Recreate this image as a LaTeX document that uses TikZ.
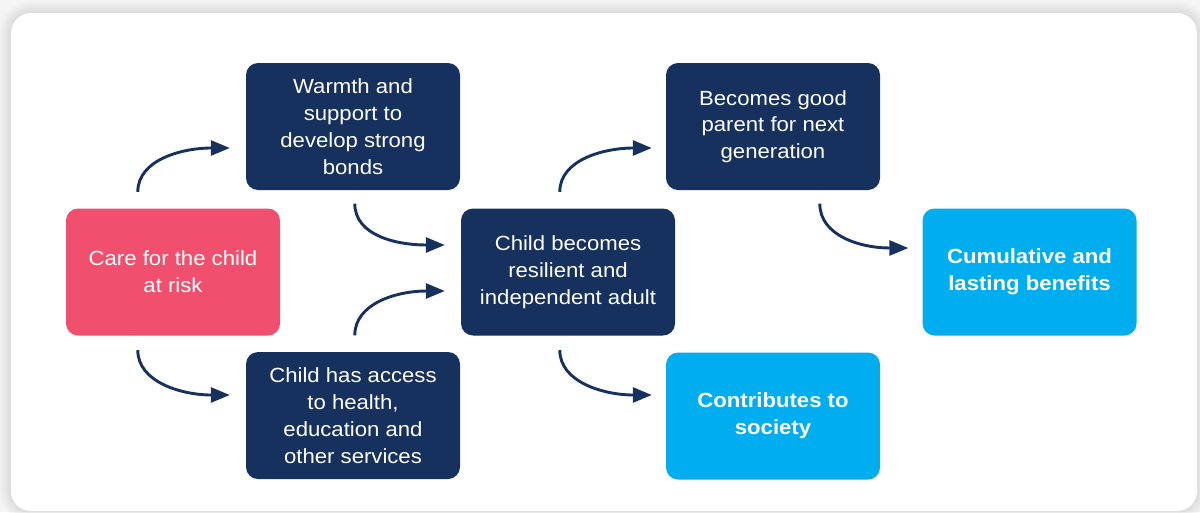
\documentclass[tikz,border=0pt]{standalone}
\usepackage{fontspec}
\setmainfont{Liberation Sans}[FakeStretch=1.08]
\usetikzlibrary{arrows.meta}
\definecolor{navy}{HTML}{17315F}
\definecolor{pinkc}{HTML}{F0506E}
\definecolor{cyanc}{HTML}{00AEEF}
\definecolor{bgc}{HTML}{F5F5F5}
\tikzset{
  box/.style={rectangle, rounded corners=12pt, minimum width=214pt, minimum height=127pt,
    align=center, text=white, inner sep=0pt,
    font=\fontsize{20.5}{26.8}\selectfont},
  darkbox/.style={box, fill=navy},
  redbox/.style={box, fill=pinkc},
  bluebox/.style={box, fill=cyanc, font=\fontsize{20.5}{26.8}\selectfont\bfseries},
  flow/.style={draw=navy, line width=2.9pt, -{Triangle[length=19pt,width=15pt]}},
}
\begin{document}
\begin{tikzpicture}[x=1pt,y=-1pt]
\useasboundingbox (0,0) rectangle (1200,512);
\fill[bgc] (0,0) rectangle (1200,512);
\foreach \i in {1,...,12}{
  \fill[black,opacity=0.006,rounded corners=20pt+\i pt] (11-\i,13-\i) rectangle (1197+\i,511+\i);
}
\fill[white,rounded corners=20pt] (11,13) rectangle (1197,511);

\node[redbox]  (care)   at (173,272) {Care for the child\\at risk};
\node[darkbox] (warmth) at (353,126.5)   {Warmth and\\support to\\develop strong\\bonds};
\node[darkbox] (access) at (353,415.5)   {Child has access\\to health,\\education and\\other services};
\node[darkbox] (child)  at (568,272) {Child becomes\\resilient and\\independent adult};
\node[darkbox] (parent) at (773,126.5)   {Becomes good\\parent for next\\generation};
\node[bluebox] (contrib) at (773,416) {Contributes to\\society};
\node[bluebox] (cumul)  at (1029.5,272) {Cumulative and\\lasting benefits};

\draw[flow] ([shift={(72,-16.5)}]care.north west) .. controls +(0,-32) and +(-48,0) .. ([shift={(-16,21.5)}]warmth.west);
\draw[flow] ([shift={(72,14.5)}]care.south west) .. controls +(0,32) and +(-48,0) .. ([shift={(-16,-20.5)}]access.west);
\draw[flow] ([shift={(109,13.5)}]warmth.south west) .. controls +(0,32) and +(-48,0) .. ([shift={(-16,-27)}]child.west);
\draw[flow] ([shift={(109,-16.5)}]access.north west) .. controls +(0,-32) and +(-48,0) .. ([shift={(-16,19)}]child.west);
\draw[flow] ([shift={(99,-16.5)}]child.north west) .. controls +(0,-32) and +(-48,0) .. ([shift={(-14,21.5)}]parent.west);
\draw[flow] ([shift={(99,14.5)}]child.south west) .. controls +(0,32) and +(-48,0) .. ([shift={(-14,-21)}]contrib.west);
\draw[flow] ([shift={(154,13.5)}]parent.south west) .. controls +(0,32) and +(-48,0) .. ([shift={(-14,-24)}]cumul.west);
\end{tikzpicture}
\end{document}
